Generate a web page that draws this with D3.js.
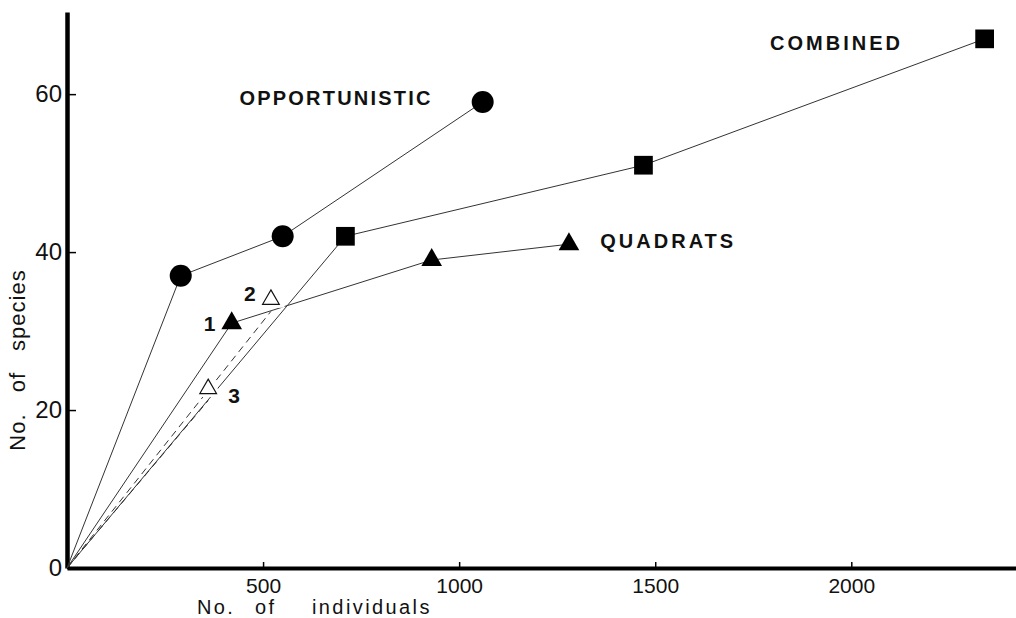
<!DOCTYPE html>
<html>
<head>
<meta charset="utf-8">
<script src="https://cdn.jsdelivr.net/npm/d3@7"></script>
<style>
  body { margin: 0; background: #fff; }
  text { font-family: "Liberation Sans", Arial, sans-serif; fill: #111; }
</style>
</head>
<body>
<div id="chart"></div>
<script>
// species accumulation
var oppN = [0, 290, 550, 1060]
var oppS = [0, 37, 42, 59]
var combN = [0, 710, 1470, 2340]
var combS = [0, 42, 51, 67]
var quadN = [0, 420, 930, 1280]
var quadS = [0, 31, 39, 41]
// single quadrats 2 and 3 (open triangles)
var subN = [520, 360]
var subS = [34, 22.7]
var subLabels = ["2", "3"]

var xTicks = [500, 1000, 1500, 2000]
var yTicks = [0, 20, 40, 60]

var svgWdth = 1016
var svgHt = 618

var x = d3.scaleLinear().domain([0, 2420]).range([67, 1016])
var y = d3.scaleLinear().domain([0, 70.4]).range([568, 12])

var svg = d3.select('#chart')
    .append('svg')
    .attr('width', svgWdth)
    .attr('height', svgHt)

function pts(ns, ss) {
  return ns.map(function(n, i) { return [n, ss[i]] })
}
var line = d3.line().x(function(d) { return x(d[0]) }).y(function(d) { return y(d[1]) })

// axes
var xAxis = svg.append('g')
    .attr('transform', 'translate(0,' + y(0) + ')')
    .call(d3.axisBottom(x).tickValues(xTicks).tickFormat(d3.format('d'))
      .tickSizeInner(-6).tickSizeOuter(0).tickPadding(10))
xAxis.select('.domain').attr('stroke', '#000').attr('stroke-width', 4)
xAxis.selectAll('.tick line').attr('stroke', '#000').attr('stroke-width', 1.5)
xAxis.selectAll('.tick text').attr('font-size', 21).attr('fill', '#111')
    .attr('font-family', '"Liberation Sans", Arial, sans-serif')

var yAxis = svg.append('g')
    .attr('transform', 'translate(' + x(0) + ',0)')
    .call(d3.axisLeft(y).tickValues(yTicks).tickSizeInner(-9).tickSizeOuter(0).tickPadding(5))
yAxis.select('.domain').attr('stroke', '#000').attr('stroke-width', 4.5)
yAxis.selectAll('.tick line').attr('stroke', '#000').attr('stroke-width', 1.5)
yAxis.selectAll('.tick text').attr('font-size', 24).attr('fill', '#111')
    .attr('font-family', '"Liberation Sans", Arial, sans-serif')

// axis titles
var xTitle = svg.append('text')
    .attr('y', 614)
    .attr('font-size', 20)
    .attr('letter-spacing', 2.4)
xTitle.append('tspan').attr('x', 197).text('No.')
xTitle.append('tspan').attr('x', 255).text('of')
xTitle.append('tspan').attr('x', 312).text('individuals')

svg.append('text')
    .attr('transform', 'translate(25,360)rotate(-90)')
    .attr('text-anchor', 'middle')
    .attr('font-size', 22)
    .attr('letter-spacing', 1)
    .attr('word-spacing', 14)
    .text('No. of species')

// curves
var series = [pts(oppN, oppS), pts(combN, combS), pts(quadN, quadS)]
svg.selectAll('.curve').data(series).enter().append('path')
    .attr('class', 'curve')
    .attr('d', line)
    .attr('fill', 'none')
    .attr('stroke', '#333')
    .attr('stroke-width', 1)

var subs = pts(subN, subS)
svg.selectAll('.sub').data(subs).enter().append('path')
    .attr('class', 'sub')
    .attr('d', function(d) { return line([[0, 0], [d[0], d[1] - 1.5]]) })
    .attr('fill', 'none')
    .attr('stroke', '#333')
    .attr('stroke-width', 1)
    .attr('stroke-dasharray', '7,5')

// markers
var circ = d3.symbol().type(d3.symbolCircle).size(380)
var sq = d3.symbol().type(d3.symbolSquare).size(350)
var tri = d3.symbol().type(d3.symbolTriangle).size(185)
var triOpen = d3.symbol().type(d3.symbolTriangle).size(120)

function marks(data, sym, cls) {
  svg.selectAll('.' + cls).data(data.slice(1)).enter().append('path')
      .attr('class', cls)
      .attr('d', sym)
      .attr('transform', function(d) { return 'translate(' + x(d[0]) + ',' + y(d[1]) + ')' })
      .attr('fill', '#000')
}
marks(series[0], circ, 'mc')
marks(series[1], sq, 'ms')
marks(series[2], tri, 'mt')

// open triangles with a white halo (breaks the line behind)
svg.selectAll('.halo').data(subs).enter().append('path')
    .attr('d', triOpen)
    .attr('transform', function(d) { return 'translate(' + x(d[0]) + ',' + y(d[1]) + ')' })
    .attr('fill', '#fff').attr('stroke', '#fff').attr('stroke-width', 7)
svg.selectAll('.mo').data(subs).enter().append('path')
    .attr('class', 'mo')
    .attr('d', triOpen)
    .attr('transform', function(d) { return 'translate(' + x(d[0]) + ',' + y(d[1]) + ')' })
    .attr('fill', '#fff').attr('stroke', '#111').attr('stroke-width', 1.2)

// point numbers
var numOff = [[-21, -6], [26, 7]]
svg.selectAll('.num').data(subs).enter().append('text')
    .attr('class', 'num')
    .attr('x', function(d, i) { return x(d[0]) + numOff[i][0] })
    .attr('y', function(d, i) { return y(d[1]) + numOff[i][1] })
    .attr('text-anchor', 'middle').attr('dy', '0.36em')
    .attr('font-size', 21).attr('font-weight', 'bold')
    .text(function(d, i) { return subLabels[i] })

svg.append('text')
    .attr('x', x(quadN[1]) - 22).attr('y', y(quadS[1]))
    .attr('text-anchor', 'middle').attr('dy', '0.36em')
    .attr('font-size', 21).attr('font-weight', 'bold')
    .text('1')

// series names
var seriesNames = ['OPPORTUNISTIC', 'COMBINED', 'QUADRATS']
var namePos = [[440, 59.5], [1793, 66.5], [1360, 41.4]]
svg.selectAll('.sname').data(seriesNames).enter().append('text')
    .attr('class', 'sname')
    .attr('x', function(d, i) { return x(namePos[i][0]) })
    .attr('y', function(d, i) { return y(namePos[i][1]) })
    .attr('dy', '0.36em')
    .attr('font-size', 20).attr('font-weight', 'bold')
    .attr('letter-spacing', function(d, i) { return i == 0 ? 2.2 : 3 })
    .text(function(d) { return d })
</script>
</body>
</html>
